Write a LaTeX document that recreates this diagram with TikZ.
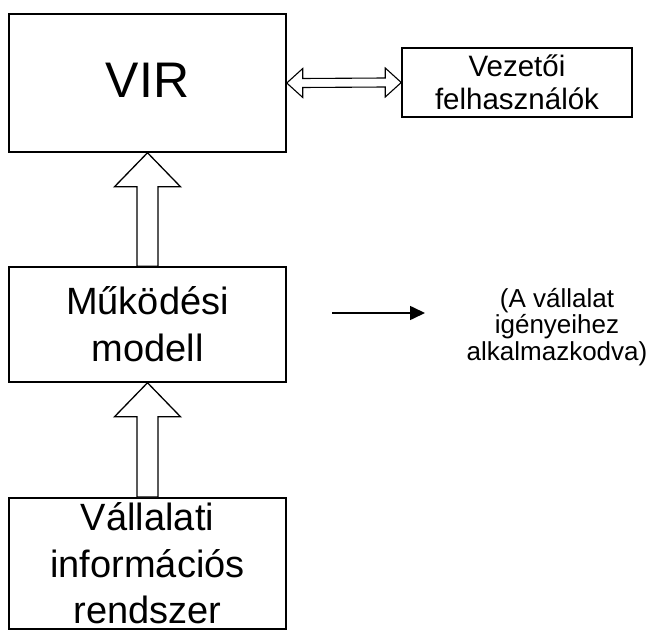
\documentclass[tikz,border=0pt]{standalone}
\usepackage{fontspec}
\setmainfont{Liberation Sans}
\usetikzlibrary{arrows.meta,calc}
\begin{document}
\begin{tikzpicture}[x=1pt,y=-1pt,
  box/.style={draw,line width=1.5pt,inner sep=0pt,align=center},
  blockarrow/.style={draw,fill=white,line width=1.3pt,line join=miter},
  flow/.style={line width=1.6pt,-{Triangle[length=15pt,width=14pt]}},
]
% page frame; the lowest box runs past the bottom edge
\clip (0,0) rectangle (651,631);

% boxes
\node[box,minimum width=277pt,minimum height=138pt,text depth=6pt,
      font=\fontsize{50}{56}\selectfont] (vir) at (147.5,83) {VIR};
\node[box,minimum width=230pt,minimum height=69pt,
      font=\fontsize{29.5}{32.5}\selectfont] (vez) at (517,82.5) {Vezetői\\felhasználók};
\node[box,minimum width=277pt,minimum height=115pt,
      font=\fontsize{38}{47}\selectfont] (mod) at (147.5,324.5) {Működési\\modell};
\node[box,minimum width=277pt,anchor=north,inner ysep=5pt,
      font=\fontsize{38}{46.5}\selectfont] (vis) at (147.5,497) {Vállalati\\információs\\rendszer};

% two-way block arrow between VIR and the users
\draw[blockarrow,line width=1.1pt]
  (vir.east) -- ($(vir.east)+(16,-14.5)$) -- ($(vir.east)+(16,-4.5)$)
  -- ($(vez.west)+(-16,-4.5)$) -- ($(vez.west)+(-16,-14.5)$) -- (vez.west)
  -- ($(vez.west)+(-16,14.5)$) -- ($(vez.west)+(-16,4.5)$)
  -- ($(vir.east)+(16,4.5)$) -- ($(vir.east)+(16,14.5)$) -- cycle;

% upward block arrows
\draw[blockarrow]
  (vir.south) -- ($(vir.south)+(33,34)$) -- ($(vir.south)+(10.5,34)$)
  -- ($(mod.north)+(10.5,0)$) -- ($(mod.north)+(-10.5,0)$)
  -- ($(vir.south)+(-10.5,34)$) -- ($(vir.south)+(-33,34)$) -- cycle;
\draw[blockarrow]
  (mod.south) -- ($(mod.south)+(33,34)$) -- ($(mod.south)+(10.5,34)$)
  -- ($(vis.north)+(10.5,0)$) -- ($(vis.north)+(-10.5,0)$)
  -- ($(mod.south)+(-10.5,34)$) -- ($(mod.south)+(-33,34)$) -- cycle;

% side note with its arrow
\coordinate (fs) at (332,313);
\coordinate (fe) at (425,313);
\draw[flow] (fs) -- (fe);
\node[align=center,inner sep=0pt,font=\fontsize{26}{26.5}\selectfont] (note) at (557,327)
  {(A vállalat\\igényeihez\\alkalmazkodva)};
\end{tikzpicture}
\end{document}
